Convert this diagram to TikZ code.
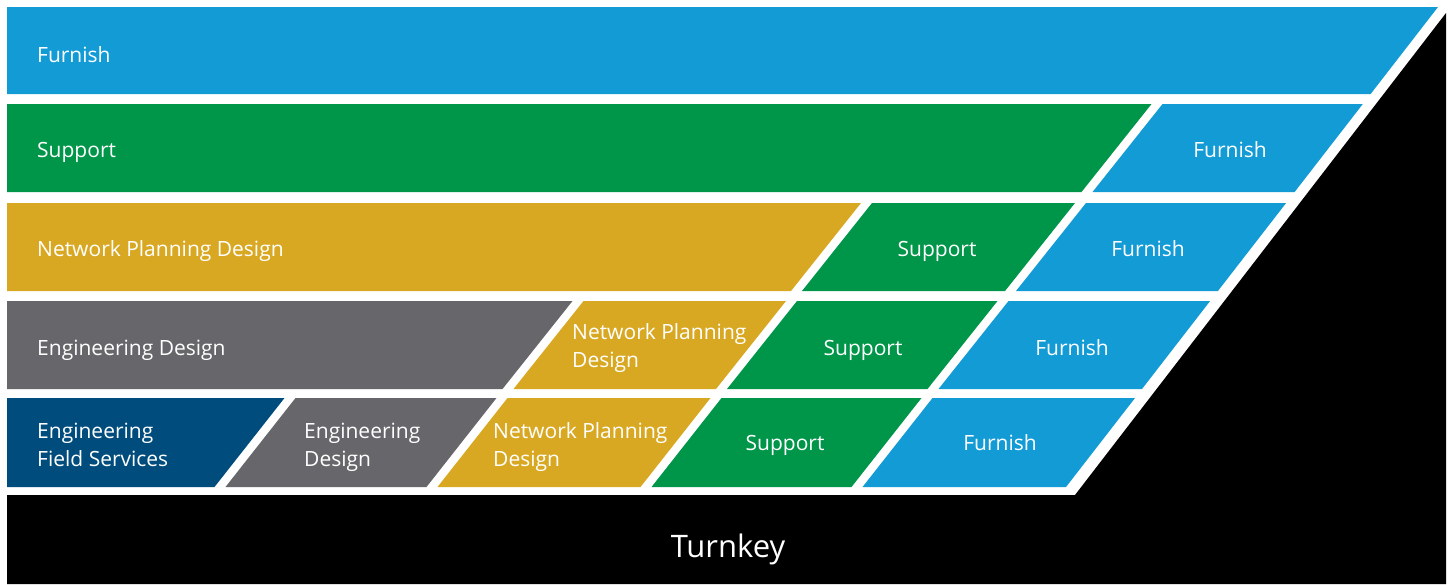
\documentclass[tikz,border=0pt]{standalone}
\usepackage{fontspec}
\setmainfont{Open Sans}
\definecolor{cFurnish}{HTML}{139BD6}
\definecolor{cSupport}{HTML}{009649}
\definecolor{cNPD}{HTML}{D9A823}
\definecolor{cED}{HTML}{67666A}
\definecolor{cEFS}{HTML}{004D7D}
\tikzset{
  furnish/.style={fill=cFurnish},
  support/.style={fill=cSupport},
  npd/.style={fill=cNPD},
  edesign/.style={fill=cED},
  efs/.style={fill=cEFS},
  lbl/.style={text=white, inner sep=0pt, font=\fontsize{21}{28}\selectfont},
  big/.style={text=white, inner sep=0pt, font=\fontsize{31}{36}\selectfont},
}
\newcommand{\twoline}[2]{\begin{tabular}[t]{@{}l@{}}#1\\#2\end{tabular}}
\begin{document}
\begin{tikzpicture}[x=1pt,y=-1pt]
\useasboundingbox (0,0) rectangle (1450,584);
\fill[white] (0,0) rectangle (1450,584);
% black base
\fill[black] (7,495) -- (1075,495) -- (1446,13) -- (1446,584) -- (7,584) -- cycle;
% row 1
\fill[furnish] (7,7) -- (1438,7) -- (1370.6,94) -- (7,94) -- cycle;
% row 2
\fill[support] (7,104) -- (1151.5,104) -- (1081.5,192) -- (7,192) -- cycle;
\fill[furnish] (1162.5,104) -- (1362.8,104) -- (1294.6,192) -- (1092.5,192) -- cycle;
% row 3
\fill[npd] (7,203) -- (861,203) -- (791,291) -- (7,291) -- cycle;
\fill[support] (872,203) -- (1075,203) -- (1005,291) -- (802,291) -- cycle;
\fill[furnish] (1086,203) -- (1286.1,203) -- (1217.9,291) -- (1016,291) -- cycle;
% row 4
\fill[edesign] (7,301) -- (572.5,301) -- (502.5,389) -- (7,389) -- cycle;
\fill[npd] (583.5,301) -- (786,301) -- (716,389) -- (513.5,389) -- cycle;
\fill[support] (797,301) -- (997.5,301) -- (927.5,389) -- (727,389) -- cycle;
\fill[furnish] (1008.5,301) -- (1210.1,301) -- (1142,389) -- (938.5,389) -- cycle;
% row 5
\fill[efs] (7,398) -- (284.5,398) -- (214.5,487) -- (7,487) -- cycle;
\fill[edesign] (295.5,398) -- (496.5,398) -- (426.5,487) -- (225.5,487) -- cycle;
\fill[npd] (507.5,398) -- (710.5,398) -- (640.5,487) -- (437.5,487) -- cycle;
\fill[support] (721.5,398) -- (921.5,398) -- (851.5,487) -- (651.5,487) -- cycle;
\fill[furnish] (932.5,398) -- (1135,398) -- (1066,487) -- (862.5,487) -- cycle;
% labels
\node[lbl, anchor=base west] (r1a) at (37,62) {Furnish};
\node[lbl, anchor=base west] (r2a) at (37,157) {Support};
\node[lbl, anchor=base] (r2b) at (1230,157) {Furnish};
\node[lbl, anchor=base west] (r3a) at (37,256) {Network Planning Design};
\node[lbl, anchor=base] (r3b) at (937,256) {Support};
\node[lbl, anchor=base] (r3c) at (1148,256) {Furnish};
\node[lbl, anchor=base west] (r4a) at (37,355) {Engineering Design};
\node[lbl, anchor=base west] (r4b) at (572,339) {\twoline{Network Planning}{Design}};
\node[lbl, anchor=base] (r4c) at (863,355) {Support};
\node[lbl, anchor=base] (r4d) at (1072,355) {Furnish};
\node[lbl, anchor=base west] (r5a) at (37,438) {\twoline{Engineering}{Field Services}};
\node[lbl, anchor=base west] (r5b) at (304,438) {\twoline{Engineering}{Design}};
\node[lbl, anchor=base west] (r5c) at (493,438) {\twoline{Network Planning}{Design}};
\node[lbl, anchor=base] (r5d) at (785,450) {Support};
\node[lbl, anchor=base] (r5e) at (1000,450) {Furnish};
\node[big, anchor=base] (tk) at (728,557) {Turnkey};
\end{tikzpicture}
\end{document}
